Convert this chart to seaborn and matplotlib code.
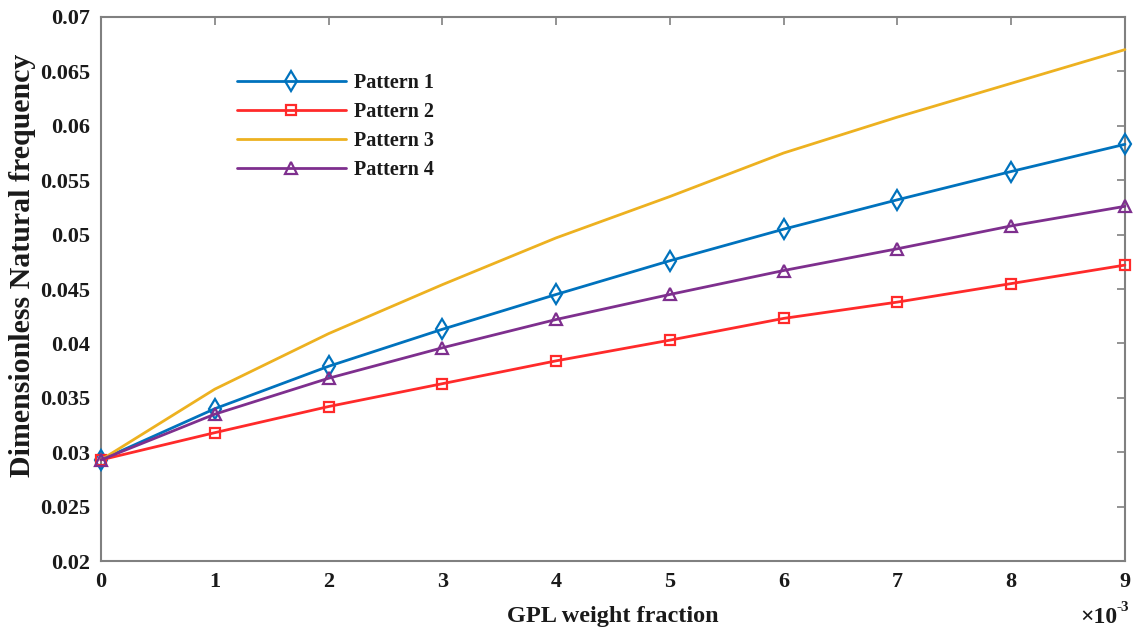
import numpy as np
import pandas as pd
import matplotlib
matplotlib.use("Agg")
import matplotlib.pyplot as plt
import seaborn as sns

# GPL weight fraction (x 10^-3)
gpl_fraction = [0, 1, 2, 3, 4, 5, 6, 7, 8, 9]

# Dimensionless natural frequency for each GPL distribution pattern
pattern_1 = [0.0293, 0.0340, 0.0379, 0.0413, 0.0445, 0.0476, 0.0505, 0.0532, 0.0558, 0.0583]
pattern_2 = [0.0293, 0.0318, 0.0342, 0.0363, 0.0384, 0.0403, 0.0423, 0.0438, 0.0455, 0.0472]
pattern_3 = [0.0293, 0.0358, 0.0409, 0.0454, 0.0497, 0.0535, 0.0575, 0.0608, 0.0639, 0.0670]
pattern_4 = [0.0293, 0.0335, 0.0368, 0.0396, 0.0422, 0.0445, 0.0467, 0.0487, 0.0508, 0.0526]

series_names = ["Pattern 1", "Pattern 2", "Pattern 3", "Pattern 4"]
series_values = [pattern_1, pattern_2, pattern_3, pattern_4]

x_ticks = [0, 1, 2, 3, 4, 5, 6, 7, 8, 9]
y_ticks = [0.02, 0.025, 0.03, 0.035, 0.04, 0.045, 0.05, 0.055, 0.06, 0.065, 0.07]
y_tick_labels = ["0.02", "0.025", "0.03", "0.035", "0.04", "0.045", "0.05",
                 "0.055", "0.06", "0.065", "0.07"]

df = pd.concat(
    [pd.DataFrame({"gpl": gpl_fraction, "freq": vals, "pattern": name})
     for name, vals in zip(series_names, series_values)],
    ignore_index=True,
)

sns.set_theme(style="white")
plt.rcParams["font.family"] = ["Liberation Serif", "DejaVu Serif"]
plt.rcParams["font.weight"] = "bold"

colors = {"Pattern 1": "#0072BD", "Pattern 2": "#FF2A2A",
          "Pattern 3": "#EDB120", "Pattern 4": "#7E2F8E"}
markers = {"Pattern 1": "d", "Pattern 2": "s", "Pattern 3": None, "Pattern 4": "^"}
msizes = {"Pattern 1": 10, "Pattern 2": 7, "Pattern 3": 0, "Pattern 4": 9}

fig = plt.figure(figsize=(11.34, 6.29), dpi=100)
ax = fig.add_axes([0.0891, 0.108, 0.9029, 0.865])

for name in series_names:
    sub = df[df["pattern"] == name]
    kw = dict(color=colors[name], linewidth=2.0, ax=ax, label=name, clip_on=False)
    if markers[name] is not None:
        kw.update(marker=markers[name], markersize=msizes[name],
                  markerfacecolor="none", markeredgecolor=colors[name],
                  markeredgewidth=1.6)
    sns.lineplot(data=sub, x="gpl", y="freq", **kw)

ax.set_xlim(0, 9)
ax.set_ylim(0.02, 0.07)
ax.set_xticks(x_ticks)
ax.set_xticklabels([str(t) for t in x_ticks])
ax.set_yticks(y_ticks)
ax.set_yticklabels(y_tick_labels)

for spine in ax.spines.values():
    spine.set_visible(True)
    spine.set_color("#808080")
    spine.set_linewidth(1.5)
    spine.set_zorder(0.5)

ax.tick_params(axis="both", which="both", direction="in", length=6, width=1.2,
               color="#808080", top=True, right=True, labelsize=16,
               labelcolor="#1a1a1a", pad=8)
for lab in ax.get_xticklabels() + ax.get_yticklabels():
    lab.set_fontweight("bold")

ax.set_xlabel("GPL weight fraction", fontsize=17.5, fontweight="bold",
              color="#1a1a1a", labelpad=10)
ax.set_ylabel("Dimensionless Natural frequency", fontsize=21.5, fontweight="bold",
              color="#1a1a1a")
ax.yaxis.set_label_coords(-0.064, 0.544)

fig.text(0.969, 0.018, "\u00d710", fontsize=17, fontweight="bold",
         color="#1a1a1a", ha="center", va="center")
fig.text(0.9905, 0.034, "-3", fontsize=11, fontweight="bold",
         color="#1a1a1a", ha="center", va="center")

leg = ax.legend(loc="upper left", bbox_to_anchor=(0.125, 0.912), frameon=False,
                fontsize=14.5, handlelength=5.4, labelspacing=0.45,
                handletextpad=0.4, borderaxespad=0)
for t in leg.get_texts():
    t.set_fontweight("bold")
    t.set_color("#1a1a1a")

fig.savefig("out.png", dpi=100)
